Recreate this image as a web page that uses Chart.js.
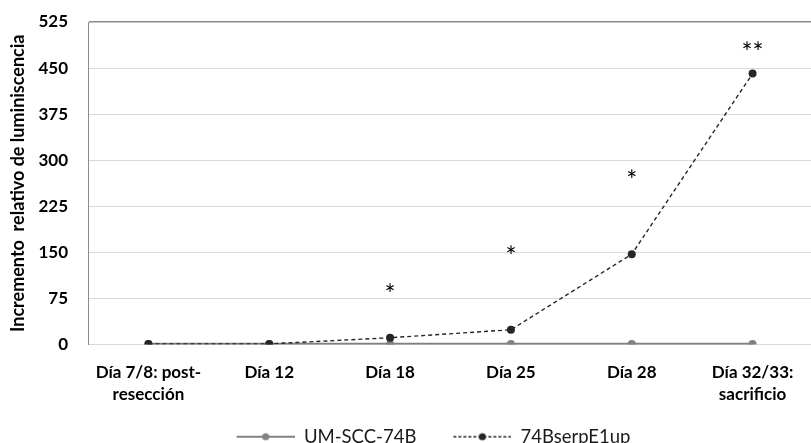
<!DOCTYPE html>
<html>
<head>
<meta charset="utf-8">
<script src="https://cdn.jsdelivr.net/npm/chart.js@4.4.1/dist/chart.umd.min.js"></script>
<style>
  html, body { margin: 0; padding: 0; background: #ffffff; overflow: hidden; }
  #wrap { position: relative; width: 817px; height: 456px; }
</style>
</head>
<body>
<div id="wrap"><canvas id="c" width="817" height="456"></canvas></div>
<script>
// ---- data ----
const categories = [
  ['Día 7/8: post-', 'resección'],
  'Día 12',
  'Día 18',
  'Día 25',
  'Día 28',
  ['Día 32/33:', 'sacrificio']
];
const seriesNames = ['UM-SCC-74B', '74BserpE1up'];
const controlValues = [1, 1, 1, 1, 1, 1];
const serpValues = [1, 1, 11, 24, 147, 441];
const significance = ['', '', '*', '*', '*', '**'];
const significanceY = [null, null, 93, 154, 278, 487];
const yTicks = [0, 75, 150, 225, 300, 375, 450, 525];

const GRAY = '#808080';
const DARK = '#262626';
const FONT = 'Lato, "Open Sans", sans-serif';

function legendMarker(color, dashed) {
  const cv = document.createElement('canvas');
  cv.width = 70; cv.height = 10;
  const g = cv.getContext('2d');
  g.strokeStyle = color;
  g.lineWidth = dashed ? 1.3 : 2;
  if (dashed) g.setLineDash([3, 2]);
  g.beginPath(); g.moveTo(12, 5); g.lineTo(70, 5); g.stroke();
  g.setLineDash([]);
  g.fillStyle = color;
  g.beginPath(); g.arc(41, 5, 3.6, 0, Math.PI * 2); g.fill();
  return cv;
}
const markers = [legendMarker(GRAY, false), legendMarker(DARK, true)];

const sigPlugin = {
  id: 'sig',
  afterDatasetsDraw(chart) {
    const {ctx, scales: {x, y}} = chart;
    ctx.save();
    ctx.fillStyle = '#000';
    ctx.font = '26px ' + FONT;
    ctx.textAlign = 'center';
    ctx.textBaseline = 'alphabetic';
    significance.forEach((s, i) => {
      if (!s || significanceY[i] == null) return;
      const px = x.getPixelForValue(i);
      const py = y.getPixelForValue(significanceY[i]);
      const m = ctx.measureText(s);
      const off = (m.actualBoundingBoxAscent - m.actualBoundingBoxDescent) / 2;
      ctx.fillText(s, px, py + off);
    });
    ctx.restore();
  }
};

new Chart(document.getElementById('c'), {
  type: 'line',
  data: {
    labels: categories,
    datasets: [
      {
        label: seriesNames[0],
        data: controlValues,
        borderColor: GRAY,
        backgroundColor: GRAY,
        borderWidth: 2.4,
        pointRadius: 4,
        pointBackgroundColor: GRAY,
        pointBorderWidth: 0,
        pointStyle: 'circle',
        order: 2
      },
      {
        label: seriesNames[1],
        data: serpValues,
        borderColor: DARK,
        backgroundColor: DARK,
        borderWidth: 1.4,
        borderDash: [4, 3],
        pointRadius: 4,
        pointBackgroundColor: DARK,
        pointBorderWidth: 0,
        order: 1
      }
    ]
  },
  options: {
    responsive: false,
    animation: false,
    devicePixelRatio: 1,
    layout: { padding: { top: 22, right: 0, left: 38, bottom: 0 } },
    scales: {
      x: {
        offset: true,
        grid: { display: false, drawTicks: false },
        border: { color: '#d9d9d9', width: 1 },
        ticks: {
          color: '#000',
          font: { family: FONT, size: 17, weight: 'bold', lineHeight: 1.3 },
          padding: 17,
          maxRotation: 0,
          autoSkip: false
        },
        afterFit: (s) => { s.height = 58; }
      },
      y: {
        min: 0, max: 525,
        afterBuildTicks: (s) => { s.ticks = yTicks.map(v => ({ value: v })); },
        grid: {
          drawTicks: true,
          tickLength: 20,
          tickColor: 'rgba(0,0,0,0)',
          color: (c) => (c.tick && c.tick.value === 525) ? '#8c8c8c' : '#d9d9d9',
          lineWidth: (c) => (c.tick && c.tick.value === 525) ? 1.5 : 1
        },
        border: { color: '#8c8c8c', width: 1 },
        ticks: {
          color: '#000',
          font: { family: FONT, size: 17, weight: 'bold' },
          padding: 0
        },
        title: {
          display: true,
          text: 'Incremento  relativo de luminiscencia',
          color: '#000',
          font: { family: FONT, size: 18, weight: 'bold', lineHeight: 1.2 },
          padding: { top: -30.5, bottom: 0 }
        },
        afterFit: (s) => { s.width = 50; }
      }
    },
    plugins: {
      legend: {
        position: 'bottom',
        labels: {
          color: '#1a1a1a',
          font: { family: FONT, size: 18.5 },
          padding: 25,
          usePointStyle: true,
          pointStyleWidth: 70,
          generateLabels: (chart) => chart.data.datasets.map((d, i) => ({
            text: d.label,
            pointStyle: markers[i],
            fillStyle: d.borderColor,
            strokeStyle: d.borderColor,
            lineWidth: 0,
            hidden: false,
            datasetIndex: i,
            fontColor: '#1a1a1a'
          }))
        }
      },
      tooltip: { enabled: false }
    }
  },
  plugins: [sigPlugin]
});
</script>
</body>
</html>
